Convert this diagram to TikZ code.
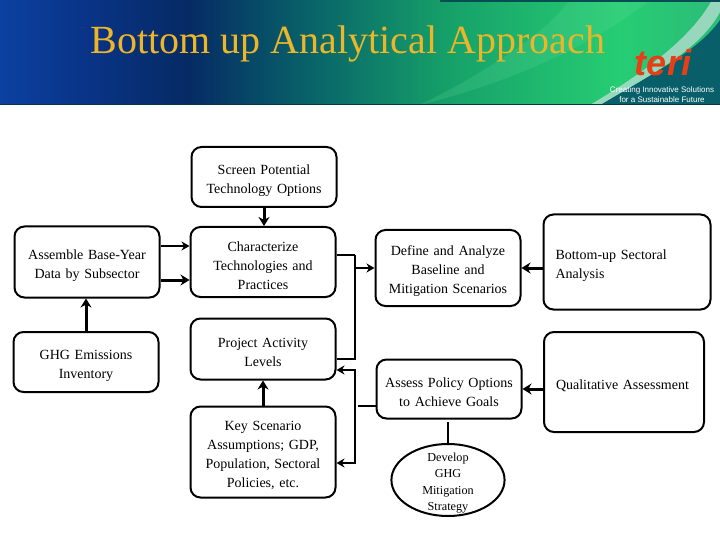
\documentclass[tikz,border=0pt]{standalone}
\usepackage{fontspec}
\setmainfont{Liberation Serif}
\setsansfont{Liberation Sans}
\usetikzlibrary{arrows.meta,calc,positioning,shapes.geometric}
\definecolor{bannerA}{RGB}{12,66,165}
\definecolor{bannerB}{RGB}{9,52,135}
\definecolor{bannerC}{RGB}{6,42,100}
\definecolor{bannerD}{RGB}{8,95,105}
\definecolor{bannerE}{RGB}{22,160,105}
\definecolor{bannerF}{RGB}{38,205,115}
\definecolor{bannerG}{RGB}{50,175,125}
\definecolor{titlegold}{RGB}{236,182,40}
\definecolor{terired}{RGB}{232,62,24}
\pgfdeclarehorizontalshading{mybanner}{100bp}{
  color(0bp)=(bannerA);color(24bp)=(bannerA);color(31bp)=(bannerB);color(38bp)=(bannerC);
  color(46bp)=(bannerD);color(56bp)=(bannerE);color(68bp)=(bannerF);color(80bp)=(bannerG);color(100bp)=(bannerG)}
\tikzset{
    mybox/.style={draw=black,line width=2pt,rounded corners=10pt,inner sep=0pt,align=center,
      font=\fontsize{14}{19}\selectfont,execute at begin node={\rule{0pt}{17pt}}},
    mywide/.style={mybox,minimum width=145pt,text width=145pt},
    myoval/.style={ellipse,draw=black,line width=2pt,inner xsep=0pt,inner ysep=-12pt,align=center,
      text width=80pt,minimum width=113pt,minimum height=72pt,font=\fontsize{12.2}{16.4}\selectfont,
      execute at begin node={\rule{0pt}{15pt}}},
    myline/.style={line width=1.7pt,draw=black},
    mytip/.style={-{Stealth[length=8pt,width=9pt]}},
    myarrow/.style={myline,mytip},
    mythick/.style={line width=3pt,draw=black,-{Stealth[length=9pt,width=11pt]}}
}
\begin{document}
\begin{tikzpicture}[x=1pt,y=-1pt]
  \useasboundingbox (0,0) rectangle (720,540);

  % banner
  \begin{scope}
    \clip (0,0) rectangle (720,105);
    \shade[shading=mybanner] (0,0) rectangle (720,105);
    \fill[bannerF!70!white,opacity=.2] (420,105) .. controls (520,80) and (600,40) .. (650,0) -- (570,0) .. controls (540,40) and (470,80) .. (420,105) -- cycle;
    \fill[bannerD] (600,105) .. controls (650,75) and (700,50) .. (720,20) -- (720,105) -- cycle;
    \fill[bannerG!45!white,opacity=.9] (590,105) .. controls (640,75) and (690,40) .. (712,0) -- (720,0) -- (720,12) .. controls (700,50) and (650,75) .. (600,105) -- cycle;
    \fill[bannerD!80!black] (440,0) rectangle (720,2);
    \fill[bannerD!60!black] (0,104) rectangle (720,105);
  \end{scope}
  \node[text=titlegold,font=\fontsize{40}{40}\selectfont] (title) at (348,44) {Bottom up Analytical Approach};
  \node[text=terired,font=\fontsize{36}{36}\selectfont\sffamily\bfseries\itshape,inner sep=0pt] (logo) at (663,63) {teri};
  \node[text=white,font=\fontsize{8}{10}\selectfont\sffamily,align=center,inner sep=0pt] (slogan) at (662,95) {Creating Innovative Solutions\\for a Sustainable Future};

  % boxes
  \node[mywide,minimum height=60pt]  (screen) at (264,177) {Screen Potential\\Technology Options};
  \node[mywide,minimum height=70pt]  (char)   at (263,262) {Characterize\\Technologies and\\Practices};
  \node[mywide,minimum height=71pt]  (base)   at (87,262)  {Assemble Base-Year\\Data by Subsector};
  \node[mywide,minimum height=60pt]  (ghg)    at (86,362)  {GHG Emissions\\Inventory};
  \node[mywide,minimum height=61pt]  (proj)   at (263,349) {Project Activity\\Levels};
  \node[mywide,minimum height=91pt]  (key)    at (263,452) {Key Scenario\\Assumptions; GDP,\\Population, Sectoral\\Policies, etc.};
  \node[mywide,minimum height=76pt]  (define) at (448,268) {Define and Analyze\\Baseline and\\Mitigation Scenarios};
  \node[mywide,minimum height=59pt]  (assess) at (449,389) {Assess Policy Options\\to Achieve Goals};
  \node[mybox,minimum width=167pt,minimum height=95pt,text width=143pt,align=left] (sect) at (627,262) {Bottom-up Sectoral\\Analysis};
  \node[mybox,minimum width=160pt,minimum height=100pt,text width=136pt,align=left] (qual) at (624,382) {Qualitative Assessment};
  \node[myoval] (strat) at (448,480) {Develop\\GHG\\Mitigation\\Strategy};

  % junctions on the two vertical runs
  \coordinate (J1) at (355,255);
  \coordinate (J2) at (355,359);
  \coordinate (J3) at (355,268);
  \coordinate (J4) at (355,370);
  \coordinate (J5) at (355,463);
  \coordinate (J6) at (358,406);
  \coordinate (J7) at (448,422);
  \coordinate (A1) at (161,246);
  \coordinate (A2) at (161,280);

  % connectors
  \draw[mythick] (screen.south) -- (screen.south |- char.north);
  \draw[mythick] (ghg.north) -- (ghg.north |- base.south);
  \draw[mythick] (key.north) -- (proj.south);
  \draw[myarrow] (A1) -- (A1 -| char.west);
  \draw[mythick] (A2) -- (A2 -| char.west);
  \draw[line width=2.6pt] (J1 -| char.east) -- (J1);
  \draw[myline] (J1) -- (J2) -- (J2 -| proj.east);
  \draw[myarrow] (J3) -- (J3 -| define.west);
  \draw[myline,{Stealth[length=8pt,width=9pt]}-{Stealth[length=8pt,width=9pt]}] (J4 -| proj.east) -- (J4) -- (J5) -- (J5 -| key.east);
  \draw[myline] (J6) -- (J6 -| assess.west);
  \draw[myline] (J7) -- (strat.north);
  \draw[mythick] (sect.west |- define.east) -- (define.east);
  \draw[mythick] (qual.west |- assess.east) -- (assess.east);
\end{tikzpicture}
\end{document}
